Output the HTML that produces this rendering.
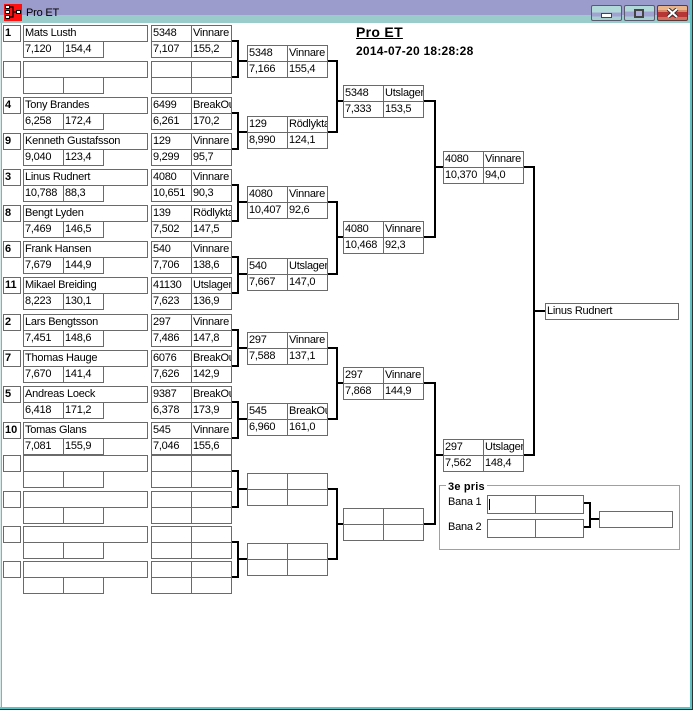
<!DOCTYPE html>
<html><head><meta charset="utf-8"><style>
html,body{margin:0;padding:0;background:#fff;}
body{width:693px;height:710px;position:relative;overflow:hidden;font-family:"Liberation Sans",sans-serif;}
.b{position:absolute;box-sizing:border-box;border:1px solid #6a6a6a;height:17px;font-size:11px;line-height:15px;letter-spacing:-0.25px;padding-left:1px;white-space:nowrap;overflow:hidden;background:#fff;color:#000;}
.s{width:18px;font-weight:bold;letter-spacing:0;left:3px;}
.n{width:125px;left:23px;}
.w{width:41px;}
.t{position:absolute;white-space:nowrap;color:#000;}
</style></head><body>
<!-- title bar -->
<div style="position:absolute;left:0;top:0;width:693px;height:15px;background:#9b9bcc;"></div>
<div style="position:absolute;left:0;top:15px;width:693px;height:8px;background:#9acccc;"></div>
<svg style="position:absolute;left:4px;top:4px" width="18" height="17" viewBox="0 0 18 17">
<rect x="0" y="0" width="18" height="17" fill="#ff1010"/>
<rect x="1.5" y="1.5" width="4" height="3" fill="#fff" stroke="#000" stroke-width="1"/>
<rect x="1.5" y="6.5" width="4" height="3" fill="#fff" stroke="#000" stroke-width="1"/>
<rect x="1.5" y="11.5" width="4" height="3" fill="#fff" stroke="#000" stroke-width="1"/>
<path d="M6 3 H9 V13 H6 M9 8 H13" stroke="#000" stroke-width="1.2" fill="none"/>
<rect x="12.5" y="6.5" width="4" height="3" fill="#fff" stroke="#000" stroke-width="1"/>
</svg>
<div class="t" style="left:26px;top:7px;font-size:11px;line-height:13px;letter-spacing:-0.2px;">Pro ET</div>
<!-- buttons -->
<div style="position:absolute;left:591px;top:5px;width:31px;height:16px;box-sizing:border-box;border:1px solid #5a5a6e;border-radius:2px;background:linear-gradient(#b2d9d9 0,#b2d9d9 45%,#a2a2d2 45%,#a2a2d2 75%,#a6d0d0 75%);"></div>
<div style="position:absolute;left:601px;top:13px;width:11px;height:5px;box-sizing:border-box;border:1px solid #444;background:#fff;"></div>
<div style="position:absolute;left:624px;top:5px;width:31px;height:16px;box-sizing:border-box;border:1px solid #5a5a6e;border-radius:2px;background:linear-gradient(#b2d9d9 0,#b2d9d9 40%,#a2a2d2 40%,#a2a2d2 75%,#a6d0d0 75%);"></div>
<div style="position:absolute;left:634px;top:9px;width:10px;height:9px;box-sizing:border-box;border:2px solid #444;background:#b0b0e0;"></div>
<div style="position:absolute;left:657px;top:5px;width:31px;height:16px;box-sizing:border-box;border:1px solid #5a3a3a;border-radius:2px;background:linear-gradient(#e9b48a 0,#e9b48a 30%,#d58a6a 30%,#d58a6a 42%,#b63636 42%,#b63636 80%,#d07060 80%);"></div>
<svg style="position:absolute;left:666px;top:8px" width="13" height="10" viewBox="0 0 13 10"><path d="M2 1 L11 9 M11 1 L2 9" stroke="#333" stroke-width="4"/><path d="M2 1 L11 9 M11 1 L2 9" stroke="#fff" stroke-width="2"/></svg>
<!-- window borders -->
<div style="position:absolute;left:0;top:23px;width:1px;height:687px;background:#d8e8e8;"></div>
<div style="position:absolute;left:1px;top:23px;width:1px;height:686px;background:#5fc2c2;"></div>
<div style="position:absolute;left:690px;top:0;width:2px;height:709px;background:#5fc2c2;"></div>
<div style="position:absolute;left:692px;top:0;width:1px;height:710px;background:#303030;"></div>
<div style="position:absolute;left:0;top:707px;width:692px;height:2px;background:#5fc2c2;"></div>
<div style="position:absolute;left:0;top:709px;width:693px;height:1px;background:#303030;"></div>

<!-- heading -->
<div class="t" style="left:356px;top:25px;font-size:14px;line-height:14px;font-weight:bold;letter-spacing:0.3px;text-decoration:underline;">Pro ET</div>
<div class="t" style="left:356px;top:45px;font-size:12px;line-height:12px;font-weight:bold;letter-spacing:0.25px;">2014-07-20 18:28:28</div>

<!-- round 1 slots -->
<div class="b s" style="top:25px">1</div><div class="b n" style="top:25px">Mats Lusth</div>
<div class="b w" style="left:23px;top:41px">7,120</div><div class="b w" style="left:63px;top:41px">154,4</div>
<div class="b w" style="left:151px;top:25px">5348</div><div class="b w" style="left:191px;top:25px">Vinnare</div>
<div class="b w" style="left:151px;top:41px">7,107</div><div class="b w" style="left:191px;top:41px">155,2</div>

<div class="b s" style="top:61px"></div><div class="b n" style="top:61px"></div>
<div class="b w" style="left:23px;top:77px"></div><div class="b w" style="left:63px;top:77px"></div>
<div class="b w" style="left:151px;top:61px"></div><div class="b w" style="left:191px;top:61px"></div>
<div class="b w" style="left:151px;top:77px"></div><div class="b w" style="left:191px;top:77px"></div>

<div class="b s" style="top:97px">4</div><div class="b n" style="top:97px">Tony Brandes</div>
<div class="b w" style="left:23px;top:113px">6,258</div><div class="b w" style="left:63px;top:113px">172,4</div>
<div class="b w" style="left:151px;top:97px">6499</div><div class="b w" style="left:191px;top:97px">BreakOut</div>
<div class="b w" style="left:151px;top:113px">6,261</div><div class="b w" style="left:191px;top:113px">170,2</div>

<div class="b s" style="top:133px">9</div><div class="b n" style="top:133px">Kenneth Gustafsson</div>
<div class="b w" style="left:23px;top:149px">9,040</div><div class="b w" style="left:63px;top:149px">123,4</div>
<div class="b w" style="left:151px;top:133px">129</div><div class="b w" style="left:191px;top:133px">Vinnare</div>
<div class="b w" style="left:151px;top:149px">9,299</div><div class="b w" style="left:191px;top:149px">95,7</div>

<div class="b s" style="top:169px">3</div><div class="b n" style="top:169px">Linus Rudnert</div>
<div class="b w" style="left:23px;top:185px">10,788</div><div class="b w" style="left:63px;top:185px">88,3</div>
<div class="b w" style="left:151px;top:169px">4080</div><div class="b w" style="left:191px;top:169px">Vinnare</div>
<div class="b w" style="left:151px;top:185px">10,651</div><div class="b w" style="left:191px;top:185px">90,3</div>

<div class="b s" style="top:205px">8</div><div class="b n" style="top:205px">Bengt Lyden</div>
<div class="b w" style="left:23px;top:221px">7,469</div><div class="b w" style="left:63px;top:221px">146,5</div>
<div class="b w" style="left:151px;top:205px">139</div><div class="b w" style="left:191px;top:205px">Rödlyktan</div>
<div class="b w" style="left:151px;top:221px">7,502</div><div class="b w" style="left:191px;top:221px">147,5</div>

<div class="b s" style="top:241px">6</div><div class="b n" style="top:241px">Frank Hansen</div>
<div class="b w" style="left:23px;top:257px">7,679</div><div class="b w" style="left:63px;top:257px">144,9</div>
<div class="b w" style="left:151px;top:241px">540</div><div class="b w" style="left:191px;top:241px">Vinnare</div>
<div class="b w" style="left:151px;top:257px">7,706</div><div class="b w" style="left:191px;top:257px">138,6</div>

<div class="b s" style="top:277px">11</div><div class="b n" style="top:277px">Mikael Breiding</div>
<div class="b w" style="left:23px;top:293px">8,223</div><div class="b w" style="left:63px;top:293px">130,1</div>
<div class="b w" style="left:151px;top:277px">41130</div><div class="b w" style="left:191px;top:277px">Utslagen</div>
<div class="b w" style="left:151px;top:293px">7,623</div><div class="b w" style="left:191px;top:293px">136,9</div>

<div class="b s" style="top:314px">2</div><div class="b n" style="top:314px">Lars Bengtsson</div>
<div class="b w" style="left:23px;top:330px">7,451</div><div class="b w" style="left:63px;top:330px">148,6</div>
<div class="b w" style="left:151px;top:314px">297</div><div class="b w" style="left:191px;top:314px">Vinnare</div>
<div class="b w" style="left:151px;top:330px">7,486</div><div class="b w" style="left:191px;top:330px">147,8</div>

<div class="b s" style="top:350px">7</div><div class="b n" style="top:350px">Thomas Hauge</div>
<div class="b w" style="left:23px;top:366px">7,670</div><div class="b w" style="left:63px;top:366px">141,4</div>
<div class="b w" style="left:151px;top:350px">6076</div><div class="b w" style="left:191px;top:350px">BreakOut</div>
<div class="b w" style="left:151px;top:366px">7,626</div><div class="b w" style="left:191px;top:366px">142,9</div>

<div class="b s" style="top:386px">5</div><div class="b n" style="top:386px">Andreas Loeck</div>
<div class="b w" style="left:23px;top:402px">6,418</div><div class="b w" style="left:63px;top:402px">171,2</div>
<div class="b w" style="left:151px;top:386px">9387</div><div class="b w" style="left:191px;top:386px">BreakOut</div>
<div class="b w" style="left:151px;top:402px">6,378</div><div class="b w" style="left:191px;top:402px">173,9</div>

<div class="b s" style="top:422px">10</div><div class="b n" style="top:422px">Tomas Glans</div>
<div class="b w" style="left:23px;top:438px">7,081</div><div class="b w" style="left:63px;top:438px">155,9</div>
<div class="b w" style="left:151px;top:422px">545</div><div class="b w" style="left:191px;top:422px">Vinnare</div>
<div class="b w" style="left:151px;top:438px">7,046</div><div class="b w" style="left:191px;top:438px">155,6</div>

<div class="b s" style="top:455px"></div><div class="b n" style="top:455px"></div>
<div class="b w" style="left:23px;top:471px"></div><div class="b w" style="left:63px;top:471px"></div>
<div class="b w" style="left:151px;top:455px"></div><div class="b w" style="left:191px;top:455px"></div>
<div class="b w" style="left:151px;top:471px"></div><div class="b w" style="left:191px;top:471px"></div>

<div class="b s" style="top:491px"></div><div class="b n" style="top:491px"></div>
<div class="b w" style="left:23px;top:507px"></div><div class="b w" style="left:63px;top:507px"></div>
<div class="b w" style="left:151px;top:491px"></div><div class="b w" style="left:191px;top:491px"></div>
<div class="b w" style="left:151px;top:507px"></div><div class="b w" style="left:191px;top:507px"></div>

<div class="b s" style="top:526px"></div><div class="b n" style="top:526px"></div>
<div class="b w" style="left:23px;top:542px"></div><div class="b w" style="left:63px;top:542px"></div>
<div class="b w" style="left:151px;top:526px"></div><div class="b w" style="left:191px;top:526px"></div>
<div class="b w" style="left:151px;top:542px"></div><div class="b w" style="left:191px;top:542px"></div>

<div class="b s" style="top:561px"></div><div class="b n" style="top:561px"></div>
<div class="b w" style="left:23px;top:577px"></div><div class="b w" style="left:63px;top:577px"></div>
<div class="b w" style="left:151px;top:561px"></div><div class="b w" style="left:191px;top:561px"></div>
<div class="b w" style="left:151px;top:577px"></div><div class="b w" style="left:191px;top:577px"></div>

<!-- round 2 -->
<div class="b w" style="left:247px;top:45px">5348</div><div class="b w" style="left:287px;top:45px">Vinnare</div>
<div class="b w" style="left:247px;top:61px">7,166</div><div class="b w" style="left:287px;top:61px">155,4</div>
<div class="b w" style="left:247px;top:116px">129</div><div class="b w" style="left:287px;top:116px">Rödlyktan</div>
<div class="b w" style="left:247px;top:132px">8,990</div><div class="b w" style="left:287px;top:132px">124,1</div>
<div class="b w" style="left:247px;top:186px">4080</div><div class="b w" style="left:287px;top:186px">Vinnare</div>
<div class="b w" style="left:247px;top:202px">10,407</div><div class="b w" style="left:287px;top:202px">92,6</div>
<div class="b w" style="left:247px;top:258px">540</div><div class="b w" style="left:287px;top:258px">Utslagen</div>
<div class="b w" style="left:247px;top:274px">7,667</div><div class="b w" style="left:287px;top:274px">147,0</div>
<div class="b w" style="left:247px;top:332px">297</div><div class="b w" style="left:287px;top:332px">Vinnare</div>
<div class="b w" style="left:247px;top:348px">7,588</div><div class="b w" style="left:287px;top:348px">137,1</div>
<div class="b w" style="left:247px;top:403px">545</div><div class="b w" style="left:287px;top:403px">BreakOut</div>
<div class="b w" style="left:247px;top:419px">6,960</div><div class="b w" style="left:287px;top:419px">161,0</div>
<div class="b w" style="left:247px;top:473px"></div><div class="b w" style="left:287px;top:473px"></div>
<div class="b w" style="left:247px;top:489px"></div><div class="b w" style="left:287px;top:489px"></div>
<div class="b w" style="left:247px;top:543px"></div><div class="b w" style="left:287px;top:543px"></div>
<div class="b w" style="left:247px;top:559px"></div><div class="b w" style="left:287px;top:559px"></div>

<!-- round 3 -->
<div class="b w" style="left:343px;top:85px">5348</div><div class="b w" style="left:383px;top:85px">Utslagen</div>
<div class="b w" style="left:343px;top:101px">7,333</div><div class="b w" style="left:383px;top:101px">153,5</div>
<div class="b w" style="left:343px;top:221px">4080</div><div class="b w" style="left:383px;top:221px">Vinnare</div>
<div class="b w" style="left:343px;top:237px">10,468</div><div class="b w" style="left:383px;top:237px">92,3</div>
<div class="b w" style="left:343px;top:367px">297</div><div class="b w" style="left:383px;top:367px">Vinnare</div>
<div class="b w" style="left:343px;top:383px">7,868</div><div class="b w" style="left:383px;top:383px">144,9</div>
<div class="b w" style="left:343px;top:508px"></div><div class="b w" style="left:383px;top:508px"></div>
<div class="b w" style="left:343px;top:524px"></div><div class="b w" style="left:383px;top:524px"></div>

<!-- round 4 -->
<div class="b w" style="left:443px;top:151px">4080</div><div class="b w" style="left:483px;top:151px">Vinnare</div>
<div class="b w" style="left:443px;top:167px">10,370</div><div class="b w" style="left:483px;top:167px">94,0</div>
<div class="b w" style="left:443px;top:439px">297</div><div class="b w" style="left:483px;top:439px">Utslagen</div>
<div class="b w" style="left:443px;top:455px">7,562</div><div class="b w" style="left:483px;top:455px">148,4</div>

<!-- final -->
<div class="b" style="left:545px;top:303px;width:134px;">Linus Rudnert</div>

<!-- 3e pris group -->
<div style="position:absolute;left:439px;top:485px;width:241px;height:65px;box-sizing:border-box;border:1px solid #a0a0a0;"></div>
<div class="t" style="left:446px;top:481px;padding:0 2px;background:#fff;font-size:11px;line-height:13px;font-weight:bold;letter-spacing:0.2px;">3e pris</div>
<div class="t" style="left:448px;top:496px;font-size:11px;line-height:13px;letter-spacing:-0.25px;">Bana 1</div>
<div class="t" style="left:448px;top:521px;font-size:11px;line-height:13px;letter-spacing:-0.25px;">Bana 2</div>
<div class="b" style="left:487px;top:495px;width:49px;height:19px;"></div>
<div class="b" style="left:535px;top:495px;width:49px;height:19px;"></div>
<div class="b" style="left:487px;top:519px;width:49px;height:19px;"></div>
<div class="b" style="left:535px;top:519px;width:49px;height:19px;"></div>
<div style="position:absolute;left:489px;top:499px;width:1px;height:11px;background:#000;"></div>
<div class="b" style="left:599px;top:511px;width:74px;"></div>

<!-- bracket lines -->
<svg style="position:absolute;left:0;top:0" width="693" height="710" shape-rendering="crispEdges">
<g fill="#000">
<rect x="232" y="40" width="7" height="2"/><rect x="232" y="76" width="7" height="2"/><rect x="237" y="40" width="2" height="38"/><rect x="237" y="60" width="10" height="2"/>
<rect x="232" y="112" width="7" height="2"/><rect x="232" y="148" width="7" height="2"/><rect x="237" y="112" width="2" height="38"/><rect x="237" y="131" width="10" height="2"/>
<rect x="232" y="184" width="7" height="2"/><rect x="232" y="220" width="7" height="2"/><rect x="237" y="184" width="2" height="38"/><rect x="237" y="201" width="10" height="2"/>
<rect x="232" y="256" width="7" height="2"/><rect x="232" y="292" width="7" height="2"/><rect x="237" y="256" width="2" height="38"/><rect x="237" y="273" width="10" height="2"/>
<rect x="232" y="329" width="7" height="2"/><rect x="232" y="365" width="7" height="2"/><rect x="237" y="329" width="2" height="38"/><rect x="237" y="347" width="10" height="2"/>
<rect x="232" y="401" width="7" height="2"/><rect x="232" y="437" width="7" height="2"/><rect x="237" y="401" width="2" height="38"/><rect x="237" y="418" width="10" height="2"/>
<rect x="232" y="470" width="7" height="2"/><rect x="232" y="506" width="7" height="2"/><rect x="237" y="470" width="2" height="38"/><rect x="237" y="488" width="10" height="2"/>
<rect x="232" y="541" width="7" height="2"/><rect x="232" y="576" width="7" height="2"/><rect x="237" y="541" width="2" height="37"/><rect x="237" y="558" width="10" height="2"/>
<rect x="328" y="60" width="10" height="2"/><rect x="328" y="131" width="10" height="2"/><rect x="336" y="60" width="2" height="73"/><rect x="336" y="100" width="7" height="2"/>
<rect x="328" y="201" width="10" height="2"/><rect x="328" y="273" width="10" height="2"/><rect x="336" y="201" width="2" height="74"/><rect x="336" y="236" width="7" height="2"/>
<rect x="328" y="347" width="10" height="2"/><rect x="328" y="418" width="10" height="2"/><rect x="336" y="347" width="2" height="73"/><rect x="336" y="382" width="7" height="2"/>
<rect x="328" y="488" width="10" height="2"/><rect x="328" y="558" width="10" height="2"/><rect x="336" y="488" width="2" height="72"/><rect x="336" y="523" width="7" height="2"/>
<rect x="424" y="100" width="12" height="2"/><rect x="424" y="236" width="12" height="2"/><rect x="434" y="100" width="2" height="138"/><rect x="434" y="166" width="9" height="2"/>
<rect x="424" y="382" width="12" height="2"/><rect x="424" y="523" width="12" height="2"/><rect x="434" y="382" width="2" height="143"/><rect x="434" y="454" width="9" height="2"/>
<rect x="524" y="166" width="11" height="2"/><rect x="524" y="454" width="11" height="2"/><rect x="533" y="166" width="2" height="290"/><rect x="533" y="310" width="12" height="2"/>
<rect x="584" y="502" width="7" height="2"/><rect x="584" y="526" width="7" height="2"/><rect x="589" y="502" width="2" height="26"/><rect x="589" y="518" width="10" height="2"/>
</g>
</svg>
</body></html>
